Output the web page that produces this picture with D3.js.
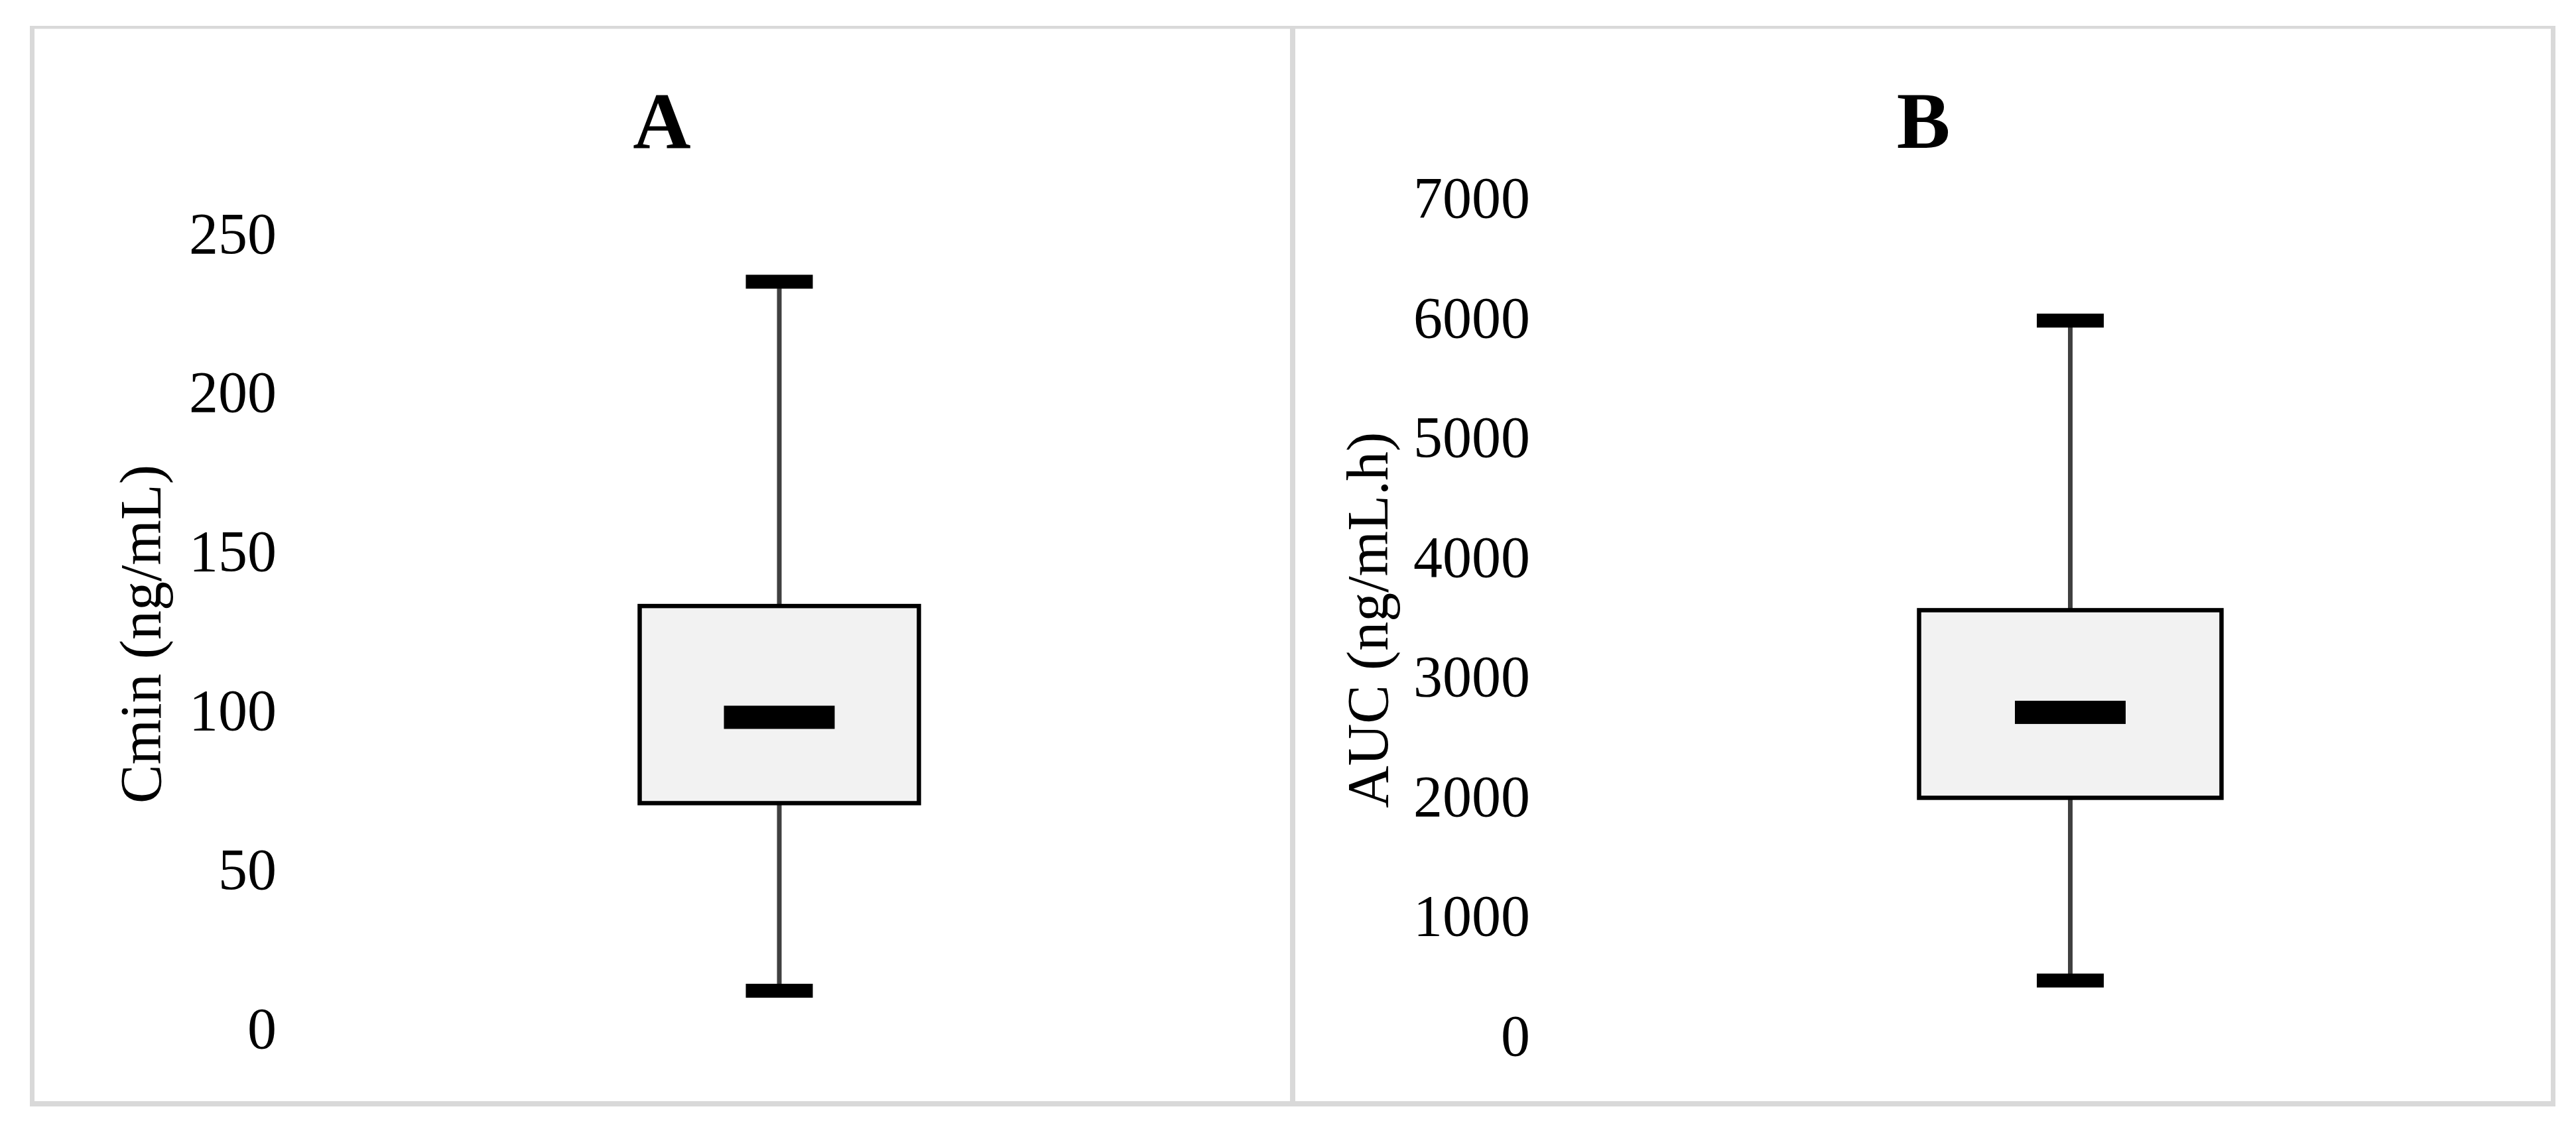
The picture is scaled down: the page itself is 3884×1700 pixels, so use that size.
<!DOCTYPE html>
<html>
<head>
  <meta charset="utf-8">
  <script src="https://d3js.org/d3.v7.min.js"></script>
  <style>
    html, body { margin: 0; padding: 0; background: #fff; }
    svg { display: block; }
    .tick text { font-family: "Liberation Serif", "DejaVu Serif", serif; fill: #000; }
  </style>
</head>
<body>
  <div id="chart"></div>
  <script>
    // data
    var panelNames = ["A", "B"];
    var axisTitles = ["Cmin (ng/mL)", "AUC (ng/mL.h)"];
    var minValues = [12, 465];
    var q1Values = [71, 1992];
    var medianValues = [98, 2706];
    var q3Values = [133, 3560];
    var maxValues = [235, 5980];
    var ticksA = [0, 50, 100, 150, 200, 250];
    var ticksB = [0, 1000, 2000, 3000, 4000, 5000, 6000, 7000];
    var tickLists = [ticksA, ticksB];

    var width = 3884, height = 1700;
    var font = '"Liberation Serif", "DejaVu Serif", serif';

    // layout of each panel (pixels)
    var layout = [
      { left: 430, right: 1920, y0: 1552, y1: 353, boxW: 421, titleX: 998, axisTitleX: 242 },
      { left: 2320, right: 3923, y0: 1563, y1: 299.5, boxW: 456, titleX: 2900, axisTitleX: 2092 }
    ];

    var svg = d3.select("#chart")
      .append("svg")
      .attr("width", width)
      .attr("height", height);

    // panel frames
    var frame = "#d9d9d9";
    svg.append("rect").attr("x", 45).attr("y", 39).attr("width", 3808).attr("height", 4.5).attr("fill", frame);
    svg.append("rect").attr("x", 45).attr("y", 1661).attr("width", 3808).attr("height", 8).attr("fill", frame);
    svg.append("rect").attr("x", 45).attr("y", 39).attr("width", 7).attr("height", 1630).attr("fill", frame);
    svg.append("rect").attr("x", 1945).attr("y", 39).attr("width", 8).attr("height", 1630).attr("fill", frame);
    svg.append("rect").attr("x", 3846).attr("y", 39).attr("width", 7).attr("height", 1630).attr("fill", frame);

    panelNames.forEach(function(name, i) {
      var L = layout[i];
      var ticks = tickLists[i];

      var y = d3.scaleLinear()
        .domain([0, d3.max(ticks)])
        .range([L.y0, L.y1]);

      var x = d3.scalePoint()
        .domain([name])
        .range([L.left, L.right])
        .padding(0.5);

      var g = svg.append("g");

      // y axis (labels only)
      var axis = g.append("g")
        .attr("transform", "translate(" + L.left + ",0)")
        .call(d3.axisLeft(y).tickValues(ticks).tickSize(0).tickPadding(13).tickFormat(d3.format("d")));
      axis.select(".domain").remove();
      axis.selectAll("text").style("font-size", "88px");

      // panel title
      g.append("text")
        .attr("x", L.titleX)
        .attr("y", 223)
        .attr("text-anchor", "middle")
        .style("font-family", font)
        .style("font-weight", "bold")
        .style("font-size", "121px")
        .text(name);

      // axis title
      g.append("text")
        .attr("transform", "rotate(-90)")
        .attr("x", -(L.y0 + L.y1) / 2 - 4)
        .attr("y", L.axisTitleX)
        .attr("text-anchor", "middle")
        .style("font-family", font)
        .style("font-size", "88px")
        .text(axisTitles[i]);

      var cx = x(name);

      // whiskers
      g.append("line")
        .attr("x1", cx).attr("x2", cx)
        .attr("y1", y(maxValues[i])).attr("y2", y(q3Values[i]))
        .attr("stroke", "#404040").attr("stroke-width", 7);
      g.append("line")
        .attr("x1", cx).attr("x2", cx)
        .attr("y1", y(q1Values[i])).attr("y2", y(minValues[i]))
        .attr("stroke", "#404040").attr("stroke-width", 7);

      // whisker caps
      [maxValues[i], minValues[i]].forEach(function(v) {
        g.append("rect")
          .attr("x", cx - 50.5)
          .attr("y", y(v) - 10.5)
          .attr("width", 101)
          .attr("height", 21)
          .attr("fill", "#000");
      });

      // box
      g.append("rect")
        .attr("x", cx - L.boxW / 2)
        .attr("y", y(q3Values[i]))
        .attr("width", L.boxW)
        .attr("height", y(q1Values[i]) - y(q3Values[i]))
        .attr("fill", "#f2f2f2")
        .attr("stroke", "#000")
        .attr("stroke-width", 6.5);

      // median
      g.append("rect")
        .attr("x", cx - 83.5)
        .attr("y", y(medianValues[i]) - 17.5)
        .attr("width", 167)
        .attr("height", 35)
        .attr("fill", "#000");
    });
  </script>
</body>
</html>
